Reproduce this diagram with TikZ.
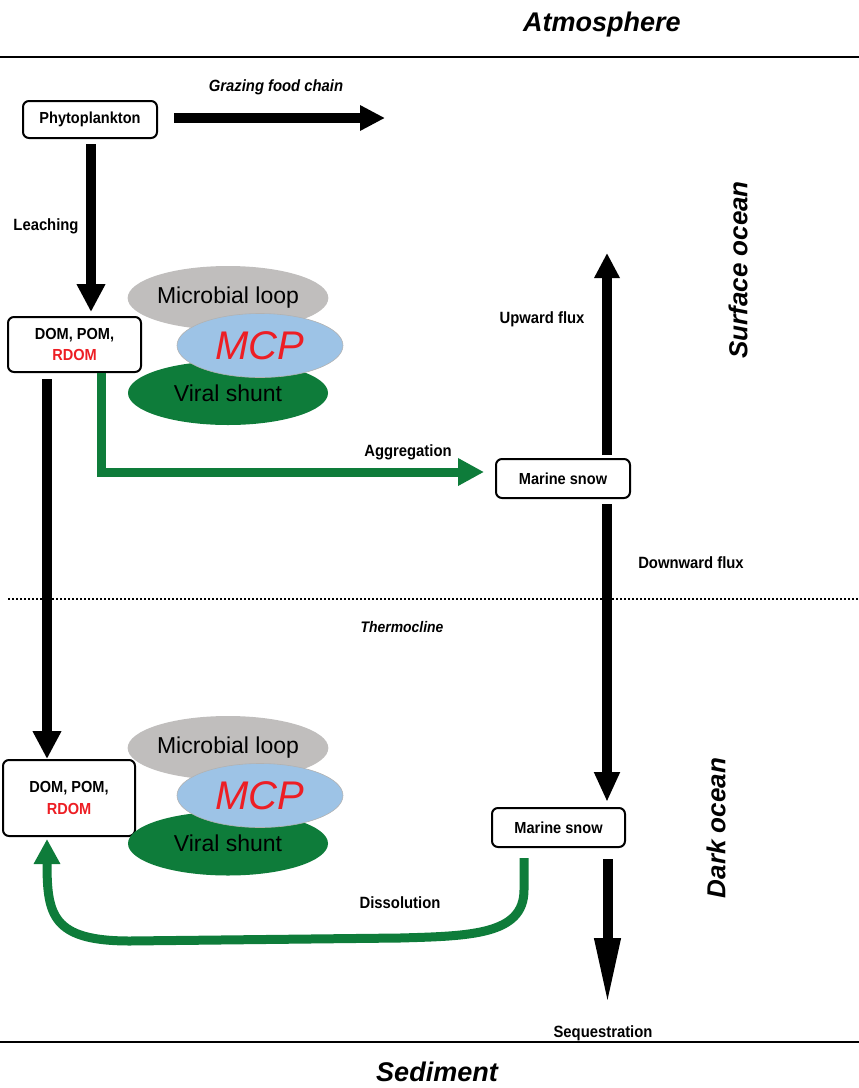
\documentclass[tikz,border=0pt]{standalone}
\usepackage{fontspec}
\setmainfont{Liberation Sans}
\newfontfamily\narfont[FakeStretch=0.91]{Liberation Sans}
\usetikzlibrary{arrows.meta,shapes.geometric}
\definecolor{mgreen}{RGB}{14,124,58}
\definecolor{mgray}{RGB}{192,190,189}
\definecolor{mblue}{RGB}{157,195,230}
\definecolor{mred}{RGB}{237,30,36}
\tikzset{
  box/.style={draw=black, line width=2pt, rounded corners=6pt, fill=white, inner sep=0pt, align=center, font=\narfont\fontsize{16}{21.5}\selectfont\bfseries},
  lbl/.style={font=\narfont\fontsize{16.3}{18}\selectfont\bfseries, inner sep=0pt},
  ilbl/.style={font=\narfont\fontsize{16.3}{18}\selectfont\bfseries\itshape, inner sep=0pt},
  big/.style={font=\fontsize{27}{30}\selectfont\bfseries\itshape, inner sep=0pt},
  side/.style={font=\fontsize{26}{30}\selectfont\bfseries\itshape, inner sep=0pt, rotate=90},
  blob/.style={ellipse, inner sep=0pt, minimum width=200pt, minimum height=64pt, font=\fontsize{23}{26}\selectfont},
  mcp/.style={ellipse, inner sep=0pt, minimum width=166pt, minimum height=64pt, fill=mblue, draw=gray!60, line width=0.6pt, font=\fontsize{40}{44}\selectfont\itshape, text=mred},
  blk/.style={line width=10pt, -{Triangle[length=28pt,width=27pt]}},
  grn/.style={draw=mgreen, line width=9pt, -{Triangle[length=26pt,width=26pt]}},
  sepline/.style={line width=2pt}
}
\begin{document}
\begin{tikzpicture}[x=1pt,y=-1pt]
\useasboundingbox (0,0) rectangle (859,1088);
% layer lines
\coordinate (tl) at (0,57); \coordinate (tr) at (859,57);
\coordinate (bl) at (0,1042); \coordinate (br) at (859,1042);
\coordinate (dl) at (8,599); \coordinate (dr) at (859,599);
\draw[sepline] (tl) -- (tr);
\draw[sepline] (bl) -- (br);
\draw[line width=1.8pt, dash pattern=on 2pt off 2pt] (dl) -- (dr);
\node[big] (atm) at (602,25) {Atmosphere};
\node[big] (sed) at (437,1072) {Sediment};
\node[font=\narfont\fontsize{15.3}{17}\selectfont\bfseries\itshape, inner sep=0pt] (thermo) at (402,627) {Thermocline};
\node[side] (surf) at (738,270) {Surface ocean};
\node[side] (dark) at (716,828) {Dark ocean};

% boxes
\node[box, minimum width=134pt, minimum height=37pt] (phyto) at (90,119.5) {Phytoplankton};
\node[box, minimum width=133pt, minimum height=55pt] (dom1) at (74.5,344.5) {DOM, POM,\\\textcolor{mred}{RDOM}};
\node[box, minimum width=132pt, minimum height=76pt] (dom2) at (69,798) {DOM, POM,\\\textcolor{mred}{RDOM}};
\node[box, minimum width=134pt, minimum height=39pt] (snow1) at (563,478.5) {Marine snow};
\node[box, minimum width=133pt, minimum height=39pt] (snow2) at (558.5,827.5) {Marine snow};

% ellipses upper
\node[blob, fill=mgray] (ml1) at (228,298) {Microbial loop};
\node[blob, fill=mgreen] (vs1) at (228,393) {Viral shunt};
\node[mcp] (mcp1) at (260,345.5) {MCP};
% ellipses lower
\node[blob, fill=mgray] (ml2) at (228,748) {Microbial loop};
\node[blob, fill=mgreen] (vs2) at (228,843.5) {Viral shunt};
\node[mcp] (mcp2) at (260,795.5) {MCP};

% arrows
\coordinate (graze) at (385,118);
\draw[line width=10pt, -{Triangle[length=25pt,width=24pt]}] ([xshift=16pt,yshift=1.5pt]phyto.east) -- (graze);
\node[ilbl] (grazl) at (276,87) {Grazing food chain};

\draw[blk, shorten <=5pt, shorten >=4pt] ([xshift=1pt]phyto.south) -- ([xshift=16.5pt]dom1.north);
\node[lbl] (leach) at (46,226) {Leaching};

\draw[blk, shorten <=6pt] ([xshift=-27.5pt]dom1.south) -- ([xshift=-22pt]dom2.north);

\draw[grn] ([xshift=26.5pt]dom1.south) |- ([xshift=-11pt,yshift=6.5pt]snow1.west);
\node[lbl] (aggl) at (408,452) {Aggregation};

\coordinate (uptip) at (607,253);
\draw[line width=10pt, -{Triangle[length=25pt,width=24pt]}, shorten <=3pt] ([xshift=44pt]snow1.north) -- (uptip);
\node[lbl] (upl) at (542,319) {Upward flux};

\draw[line width=10pt, -{Triangle[length=30pt,width=24pt]}, shorten <=5pt, shorten >=5pt] ([xshift=44pt]snow1.south) -- ([xshift=48.5pt]snow2.north);
\node[lbl] (downl) at (691,563) {Downward flux};

\coordinate (seqtip) at (607.5,1005);
\draw[line width=10pt, -{Triangle[length=67pt,width=24pt]}, shorten <=11pt] ([xshift=49pt]snow2.south) -- (seqtip);
\node[lbl] (seql) at (603,1033) {Sequestration};

\coordinate (d1) at (524,890);
\coordinate (d2) at (400,938);
\coordinate (d3) at (130,941);
\draw[grn, -{Triangle[length=25pt,width=25pt]}] ([xshift=-34.5pt,yshift=-10pt]snow2.south) -- (d1) .. controls (524,935) and (470,936) .. (d2) -- (d3) .. controls (52,941) and (47,915) .. ([xshift=-22pt,yshift=-2pt]dom2.south);
\node[lbl] (dissl) at (400,903) {Dissolution};
\end{tikzpicture}
\end{document}
